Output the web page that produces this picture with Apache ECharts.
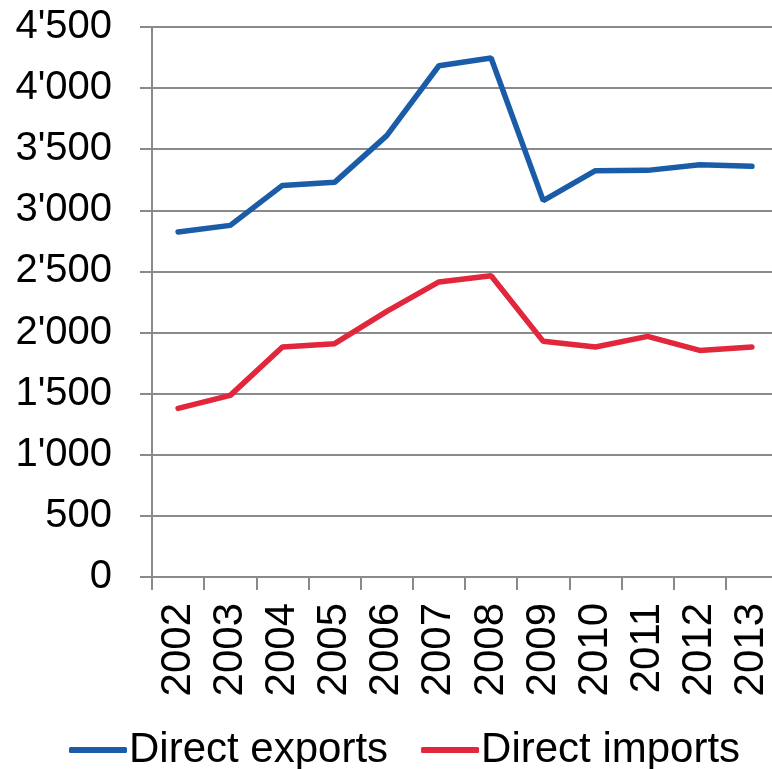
<!DOCTYPE html>
<html>
<head>
<meta charset="utf-8">
<script src="https://cdn.jsdelivr.net/npm/echarts@6/dist/echarts.min.js"></script>
<style>
  html, body { margin: 0; padding: 0; background: #fff; }
  #chart { width: 772px; height: 769px; }
</style>
</head>
<body>
<div id="chart"></div>
<script>
// data
var years = ['2002', '2003', '2004', '2005', '2006', '2007', '2008', '2009', '2010', '2011', '2012', '2013'];
var directExports = [2823, 2877, 3204, 3229, 3611, 4183, 4246, 3079, 3324, 3327, 3373, 3360];
var directImports = [1380, 1486, 1882, 1909, 2173, 2414, 2465, 1928, 1882, 1969, 1854, 1882];
var yTickLabels = ['0', '500', "1'000", "1'500", "2'000", "2'500", "3'000", "3'500", "4'000", "4'500"];

var gray = '#8a8a8a';
var font = '"Liberation Sans", Arial, sans-serif';

var myChart = echarts.init(document.getElementById('chart'));
var option = {
  animation: false,
  backgroundColor: '#fff',
  grid: {
    left: 152,
    top: 27,
    width: 626,
    height: 550,
    containLabel: false,
    outerBoundsMode: 'none'
  },
  legend: {
    left: 64,
    top: 724,
    icon: 'roundRect',
    itemWidth: 58,
    itemHeight: 6,
    itemGap: 33,
    textStyle: { fontFamily: font, fontSize: 42, color: '#000', padding: [0, 0, 0, -3] },
    data: ['Direct exports', 'Direct imports']
  },
  xAxis: {
    type: 'category',
    data: years,
    boundaryGap: true,
    axisLine: { lineStyle: { color: gray, width: 2 } },
    axisTick: { show: true, length: 13, interval: 0, lineStyle: { color: gray, width: 2 } },
    axisLabel: {
      rotate: 90,
      interval: 0,
      margin: 26,
      fontFamily: font,
      fontSize: 42,
      color: '#000'
    },
    splitLine: { show: false }
  },
  yAxis: {
    type: 'value',
    min: 0,
    max: 4500,
    interval: 500,
    axisLine: { show: true, lineStyle: { color: gray, width: 2 } },
    axisTick: { show: true, length: 12, lineStyle: { color: gray, width: 2 } },
    axisLabel: {
      margin: 40,
      fontFamily: font,
      fontSize: 40,
      color: '#000',
      formatter: function (v) { return yTickLabels[Math.round(v / 500)]; }
    },
    splitLine: { show: true, lineStyle: { color: gray, width: 2 } }
  },
  series: [
    {
      name: 'Direct exports',
      type: 'line',
      data: directExports,
      symbol: 'none',
      color: '#1B5CA9',
      lineStyle: { width: 5.5, color: '#1B5CA9', cap: 'round' }
    },
    {
      name: 'Direct imports',
      type: 'line',
      data: directImports,
      symbol: 'none',
      color: '#E2263B',
      lineStyle: { width: 5.5, color: '#E2263B', cap: 'round' }
    }
  ]
};
myChart.setOption(option);
</script>
</body>
</html>
